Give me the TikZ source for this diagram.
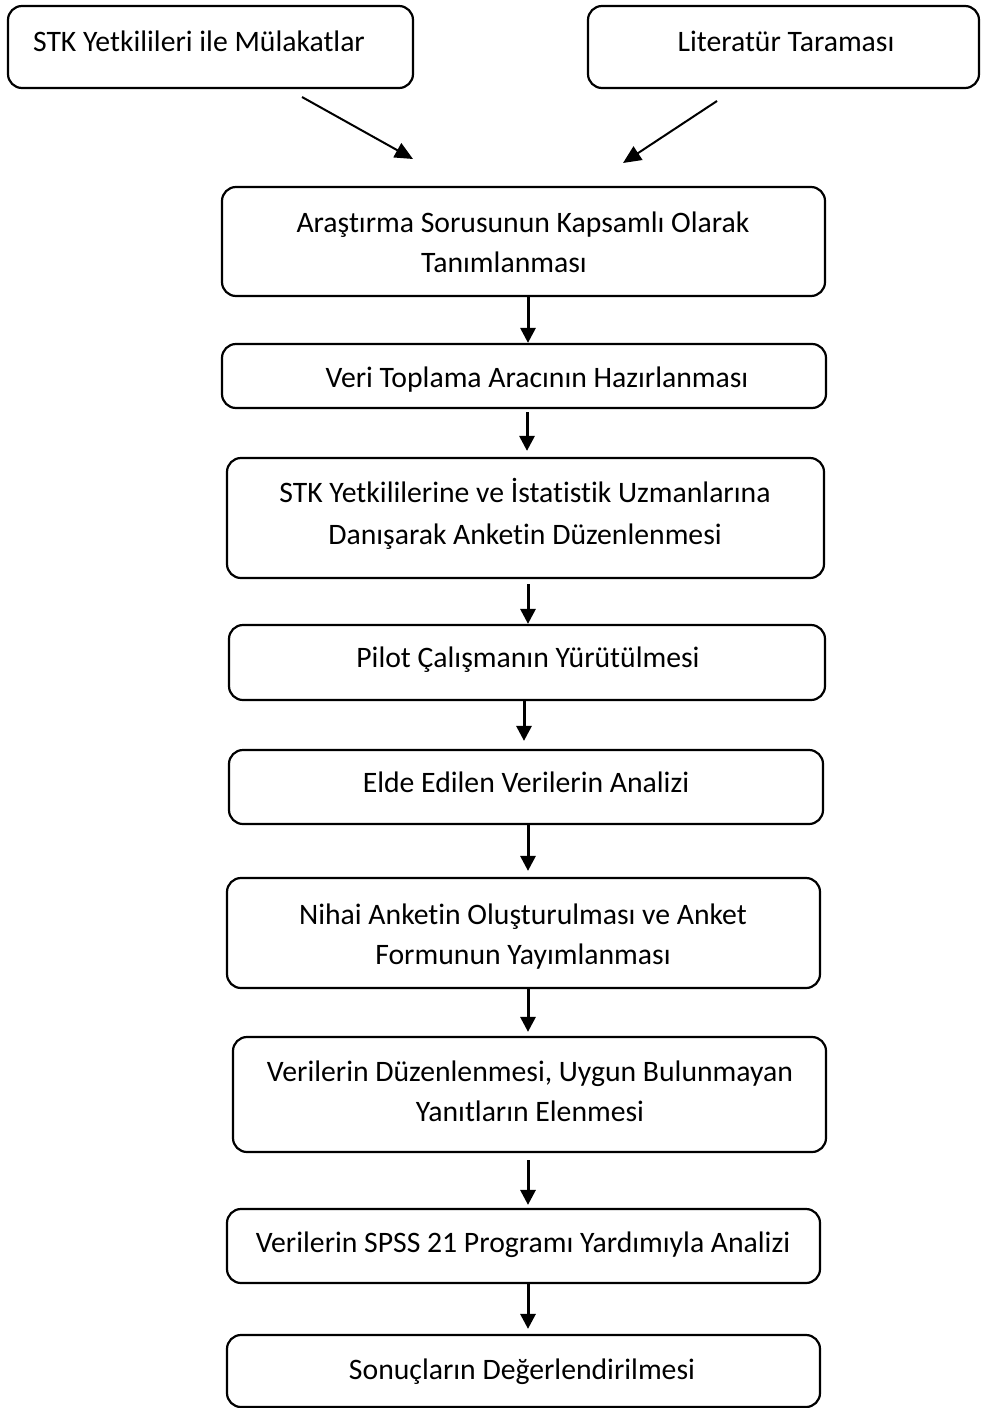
\documentclass[tikz,border=0pt]{standalone}
\usepackage{fontspec}
\setmainfont{Carlito}[Ligatures={NoCommon,NoContextual}]
\usetikzlibrary{arrows.meta}

\begin{document}
\begin{tikzpicture}[
    x=0.5pt, y=-0.5pt,
    stepbox/.style={draw, line width=1.1pt, rounded corners=7pt, inner sep=0pt},
    label/.style={anchor=base, inner sep=0pt, font=\fontsize{14.85pt}{20.5pt}\selectfont},
    flow/.style={line width=1.5pt, -{Triangle[width=7.5pt, length=7.5pt]}},
    feed/.style={line width=1pt, -{Triangle[width=8pt, length=9pt]}}
  ]
  \useasboundingbox (0,0) rectangle (980,1408);

  % source boxes
  \node[stepbox, minimum width=202.5pt, minimum height=41pt] (b1) at (210.5,47) {};
  \node[label] (t1) at (199,51) {STK Yetkilileri ile Mülakatlar};
  \node[stepbox, minimum width=195.5pt, minimum height=41pt] (b2) at (783.5,47) {};
  \node[label] (t2) at (786,51) {Literatür Taraması};

  % main chain
  \node[stepbox, minimum width=301.5pt, minimum height=54.5pt] (b3) at (523.5,241.5) {};
  \node[label] (t3a) at (523,232) {Araştırma Sorusunun Kapsamlı Olarak};
  \node[label] (t3b) at (504,272) {Tanımlanması};

  \node[stepbox, minimum width=302pt, minimum height=32pt] (b4) at (524,376) {};
  \node[label] (t4) at (537,387) {Veri Toplama Aracının Hazırlanması};

  \node[stepbox, minimum width=298.5pt, minimum height=60pt] (b5) at (525.5,518) {};
  \node[label] (t5a) at (525,502) {STK Yetkililerine ve İstatistik Uzmanlarına};
  \node[label] (t5b) at (525,544) {Danışarak Anketin Düzenlenmesi};

  \node[stepbox, minimum width=298pt, minimum height=37.5pt] (b6) at (527,662.5) {};
  \node[label] (t6) at (528,667) {Pilot Çalışmanın Yürütülmesi};

  \node[stepbox, minimum width=297pt, minimum height=37pt] (b7) at (526,787) {};
  \node[label] (t7) at (526,792) {Elde Edilen Verilerin Analizi};

  \node[stepbox, minimum width=296.5pt, minimum height=55pt] (b8) at (523.5,933) {};
  \node[label] (t8a) at (523,924) {Nihai Anketin Oluşturulması ve Anket};
  \node[label] (t8b) at (523,964) {Formunun Yayımlanması};

  \node[stepbox, minimum width=296.5pt, minimum height=57.5pt] (b9) at (529.5,1094.5) {};
  \node[label] (t9a) at (530,1081) {Verilerin Düzenlenmesi, Uygun Bulunmayan};
  \node[label] (t9b) at (530,1121) {Yanıtların Elenmesi};

  \node[stepbox, minimum width=296.5pt, minimum height=37pt] (b10) at (523.5,1246) {};
  \node[label] (t10) at (523,1252) {Verilerin SPSS 21 Programı Yardımıyla Analizi};

  \node[stepbox, minimum width=296.5pt, minimum height=36pt] (b11) at (523.5,1371) {};
  \node[label] (t11) at (522,1379) {Sonuçların Değerlendirilmesi};

  % free-standing arrows from the two sources
  \coordinate (s1) at (302,97);
  \coordinate (e1) at (413,159);
  \coordinate (s2) at (717,101);
  \coordinate (e2) at (623,163);
  \draw[feed] (s1) -- (e1);
  \draw[feed] (s2) -- (e2);

  % x positions of the vertical arrows
  \coordinate (xa) at (528,0);
  \coordinate (xb) at (527,0);
  \coordinate (xc) at (524,0);

  \draw[flow] (b3.south -| xa) -- (b4.north -| xa);
  \draw[flow, shorten <=1.5pt, shorten >=3pt] (b4.south -| xb) -- (b5.north -| xb);
  \draw[flow, shorten <=2.5pt] (b5.south -| xa) -- (b6.north -| xa);
  \draw[flow, shorten >=4pt] (b6.south -| xc) -- (b7.north -| xc);
  \draw[flow, shorten >=3pt] (b7.south -| xa) -- (b8.north -| xa);
  \draw[flow, shorten >=2pt] (b8.south -| xa) -- (b9.north -| xa);
  \draw[flow, shorten <=3.5pt, shorten >=1.5pt] (b9.south -| xa) -- (b10.north -| xa);
  \draw[flow, shorten >=2.5pt] (b10.south -| xa) -- (b11.north -| xa);
\end{tikzpicture}
\end{document}
